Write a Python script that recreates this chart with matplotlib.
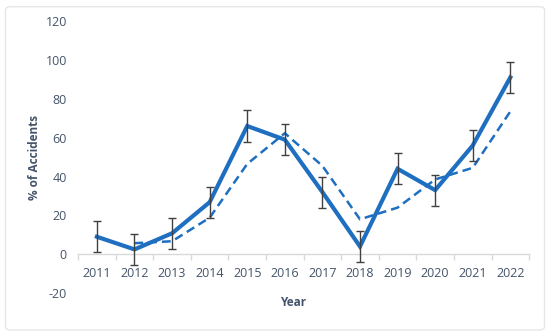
import matplotlib.pyplot as plt
from matplotlib.patches import FancyBboxPatch
from matplotlib.ticker import FixedLocator

plt.rcParams['font.family'] = ['Open Sans', 'DejaVu Sans']
plt.rcParams['axes.unicode_minus'] = False

years = ['2011', '2012', '2013', '2014', '2015', '2016',
         '2017', '2018', '2019', '2020', '2021', '2022']
accidents = [9, 2.5, 10.8, 26.8, 66, 59, 32, 4, 44, 33, 56, 91]
errors = [8, 8, 8, 8, 8, 8, 8, 8, 8, 8, 8, 8]
# trend line (2-point moving average, starts at 2012)
trend_years = years[1:]
trend = [5.7, 6.7, 18.8, 46.5, 62.3, 45.5, 18, 24, 38.5, 44.5, 73.5]

blue = '#1f6fc1'
text_col = '#44546a'

fig = plt.figure(figsize=(5.5, 3.35), dpi=100)
ax = fig.add_axes([0.142, 0.125, 0.820, 0.812])

x = list(range(len(years)))
xt = [years.index(y) for y in trend_years]

ax.plot(x, accidents, color=blue, lw=3, solid_joinstyle='miter', zorder=3)
ax.errorbar(x, accidents, yerr=errors, fmt='none', ecolor='#404040',
            elinewidth=1, capsize=3, capthick=1, zorder=4)
ax.plot(xt, trend, color=blue, lw=1.8, linestyle=(0, (3.5, 2)), zorder=2)

ax.set_xlim(-0.5, len(years) - 0.5)
ax.set_ylim(-20, 120)
ax.set_yticks(range(-20, 121, 20))
ax.set_xticks(x)
ax.set_xticklabels(years)
ax.xaxis.set_minor_locator(FixedLocator([i - 0.5 for i in range(len(years) + 1)]))

for s in ['top', 'right', 'left']:
    ax.spines[s].set_visible(False)
ax.spines['bottom'].set_position(('data', 0))
ax.spines['bottom'].set_color('#d9d9d9')
ax.spines['bottom'].set_linewidth(1)

ax.tick_params(axis='x', which='major', length=0, pad=9, labelsize=9, colors=text_col)
ax.tick_params(axis='x', which='minor', length=4, color='#d9d9d9', width=1)
ax.tick_params(axis='y', length=0, pad=8, labelsize=9, colors=text_col)

ax.set_ylabel('% of Accidents', fontsize=8.5, fontweight='bold', color=text_col, labelpad=3)
fig.text(0.532, 0.098, 'Year', ha='center', va='center', fontsize=8.5,
         fontweight='bold', color=text_col)

border = FancyBboxPatch((0.01, 0.015), 0.98, 0.965, boxstyle='round,pad=0,rounding_size=0.01',
                        transform=fig.transFigure, fill=False, edgecolor='#e6e6e6', lw=1)
fig.patches.append(border)

fig.savefig('out.png', dpi=100)
